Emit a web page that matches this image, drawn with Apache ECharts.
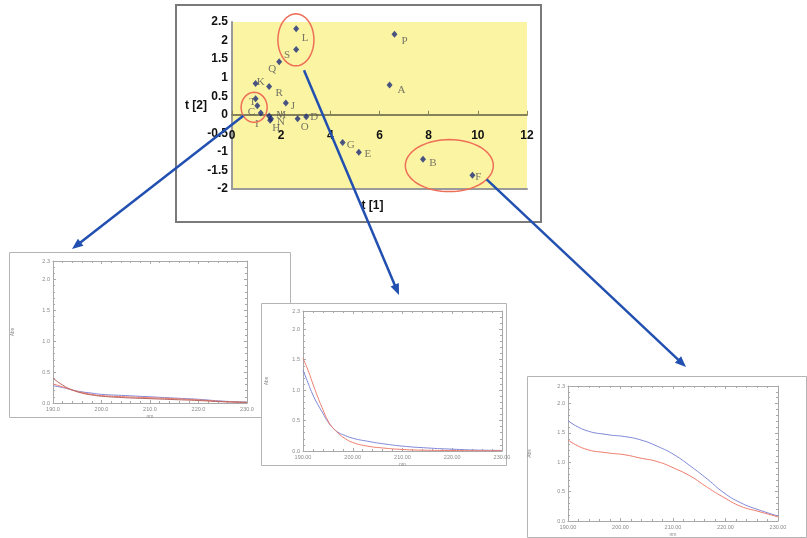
<!DOCTYPE html>
<html>
<head>
<meta charset="utf-8">
<script src="https://cdn.jsdelivr.net/npm/echarts@6/dist/echarts.min.js"></script>
<style>
  html, body { margin: 0; padding: 0; background: #fff; }
  #chart { width: 807px; height: 538px; }
</style>
</head>
<body>
<div id="chart"></div>
<script>
// Score plot: sample names with their t[1] / t[2] scores
const sampleNames = ['L', 'S', 'Q', 'K', 'R', 'J', 'T', 'C', 'I', 'M', 'N', 'H', 'O', 'D', 'G', 'E', 'P', 'A', 'B', 'F'];
const scoreT1 = [2.61, 2.61, 1.92, 0.96, 1.51, 2.19, 0.96, 1.03, 1.17, 1.51, 1.59, 1.55, 2.67, 3.02, 4.50, 5.16, 6.61, 6.41, 7.77, 9.78];
const scoreT2 = [2.32, 1.76, 1.43, 0.84, 0.76, 0.32, 0.43, 0.24, 0.05, -0.03, -0.11, -0.15, -0.11, -0.05, -0.75, -1.01, 2.17, 0.80, -1.20, -1.63];
const t1Ticks = [0, 2, 4, 6, 8, 10, 12];
const t2Ticks = [-2, -1.5, -1, -0.5, 0, 0.5, 1, 1.5, 2, 2.5];

// Absorbance spectra (nm / Abs) for the three highlighted groups
const absTicks = [0, 0.5, 1.0, 1.5, 2.0];
const absMax = 2.3;
const nmTicks = [190, 200, 210, 220, 230];

const nm1 = [190, 192, 194, 196, 198, 200, 205, 210, 215, 220, 225, 230];
const abs1a = [0.40, 0.29, 0.21, 0.16, 0.13, 0.11, 0.085, 0.07, 0.055, 0.04, 0.02, 0.01];
const abs1b = [0.31, 0.26, 0.21, 0.17, 0.14, 0.12, 0.10, 0.085, 0.07, 0.05, 0.025, 0.01];
const abs1c = [0.28, 0.25, 0.21, 0.18, 0.16, 0.14, 0.12, 0.10, 0.08, 0.06, 0.03, 0.015];

const nm2 = [190, 191, 192, 193, 194, 195, 196, 197, 198, 200, 203, 206, 210, 215, 220, 225, 230];
const abs2blue = [1.33, 1.12, 0.92, 0.76, 0.62, 0.48, 0.38, 0.31, 0.27, 0.21, 0.16, 0.12, 0.08, 0.05, 0.03, 0.015, 0.01];
const abs2red = [1.52, 1.33, 1.10, 0.88, 0.68, 0.50, 0.38, 0.30, 0.23, 0.14, 0.08, 0.05, 0.025, 0.012, 0.008, 0.005, 0.005];

const nm3 = [190, 193.2, 197.6, 200.7, 203.9, 207.1, 210.2, 213.4, 216.6, 219.7, 222.9, 226.0, 230];
const abs3blue = [1.71, 1.55, 1.47, 1.44, 1.38, 1.27, 1.13, 0.93, 0.71, 0.48, 0.31, 0.20, 0.085];
const abs3red = [1.38, 1.23, 1.16, 1.13, 1.07, 1.01, 0.90, 0.76, 0.57, 0.40, 0.25, 0.17, 0.07];

// Label placement around each score marker (px, relative to the marker)
const labelOffset = {
  L: [9, 9], S: [-9, 6], Q: [-7, 7], K: [5, -1], R: [10, 7], J: [7, 3],
  T: [-3, 3], C: [-6, 6], I: [-4, 11], M: [12, -1], N: [10, 3], H: [6, 8],
  O: [7, 8], D: [8, 0], G: [8, 2], E: [9, 2], P: [10, 7], A: [12, 5],
  B: [10, 4], F: [6, 2]
};

const SANS = 'Liberation Sans, Arial, sans-serif';
const SERIF = 'Liberation Serif, Times New Roman, serif';
const BLUE = '#7f88d8';
const RED = '#ef7d6c';

// Panel frames (outer white boxes) and their plot areas
const panelBoxes = [
  { x: 9, y: 252, w: 281, h: 165 },
  { x: 261, y: 303, w: 245, h: 162 },
  { x: 527, y: 376, w: 279, h: 161 }
];
const panelGrids = [
  { left: 53, top: 261, width: 194, height: 142, digits: 1, nameGap: 38 },
  { left: 303, top: 311, width: 199, height: 140, digits: 2, nameGap: 34 },
  { left: 568, top: 386, width: 210, height: 136, digits: 2, nameGap: 36 }
];

const chart = echarts.init(document.getElementById('chart'), null, { renderer: 'canvas' });

// Score plot area; the t[1] axis runs along t[2] = 0
const scoreGrid = { left: 232, top: 22, width: 295, height: 167 };
const t2Min = t2Ticks[0], t2Max = t2Ticks[t2Ticks.length - 1];
const zeroLift = -scoreGrid.height * (0 - t2Min) / (t2Max - t2Min);

const grids = [
  Object.assign({ show: true, backgroundColor: '#faf4a3', borderWidth: 0 }, scoreGrid)
];
const xAxes = [
  {
    gridIndex: 0, type: 'value', position: 'bottom', offset: zeroLift,
    min: t1Ticks[0], max: t1Ticks[t1Ticks.length - 1], interval: t1Ticks[1] - t1Ticks[0],
    axisLine: { onZero: false, lineStyle: { color: '#85815a', width: 2 } },
    axisTick: { inside: true, length: 4, lineStyle: { color: '#85815a', width: 1 } },
    axisLabel: { margin: 15, color: '#111', fontFamily: SANS, fontWeight: 'bold', fontSize: 12 },
    splitLine: { show: false }
  },
  {
    gridIndex: 0, type: 'value', position: 'bottom',
    min: t1Ticks[0], max: t1Ticks[t1Ticks.length - 1],
    axisLine: { onZero: false, lineStyle: { color: '#9a9a9a', width: 2 } },
    axisTick: { show: false }, axisLabel: { show: false }, splitLine: { show: false },
    name: 't [1]', nameLocation: 'middle', nameGap: 11, nameMoveOverlap: false,
    nameTextStyle: { color: '#111', fontFamily: SANS, fontWeight: 'bold', fontSize: 12, padding: [0, 14, 0, 0] }
  }
];
const yAxes = [
  {
    gridIndex: 0, type: 'value',
    min: t2Min, max: t2Max, interval: t2Ticks[1] - t2Ticks[0],
    axisLine: { onZero: false, lineStyle: { color: '#9a9a9a', width: 2 } },
    axisTick: { show: false },
    axisLabel: { margin: 4, color: '#111', fontFamily: SANS, fontWeight: 'bold', fontSize: 12 },
    splitLine: { show: false },
    name: 't [2]', nameLocation: 'middle', nameRotate: 0, nameGap: 25, nameMoveOverlap: false,
    nameTextStyle: { color: '#111', fontFamily: SANS, fontWeight: 'bold', fontSize: 12, padding: [4, 0, 0, 0] }
  }
];

const series = [
  {
    type: 'scatter', xAxisIndex: 0, yAxisIndex: 0,
    symbol: 'diamond', symbolSize: [6, 7],
    itemStyle: { color: '#1b2a78' },
    label: {
      show: true, position: 'inside', formatter: p => p.name,
      color: '#555', fontFamily: SERIF, fontSize: 11
    },
    data: sampleNames.map((n, i) => ({
      name: n, value: [scoreT1[i], scoreT2[i]], label: { offset: labelOffset[n] }
    }))
  }
];

// Spectrum panels: bottom/left axes carry labels, top/right mirror the tick frame
const frameLine = { color: '#a8a8a8', width: 1 };
panelGrids.forEach((g) => {
  const gi = grids.length;
  grids.push({ left: g.left, top: g.top, width: g.width, height: g.height, show: false });
  ['bottom', 'top'].forEach(pos => {
    xAxes.push({
      gridIndex: gi, type: 'value', position: pos,
      min: nmTicks[0], max: nmTicks[nmTicks.length - 1], interval: nmTicks[1] - nmTicks[0],
      axisLine: { onZero: false, lineStyle: frameLine },
      axisTick: { inside: true, length: 3, lineStyle: frameLine },
      minorTick: { show: true, splitNumber: 5, length: 2, lineStyle: frameLine },
      axisLabel: {
        show: pos === 'bottom', margin: 3, color: '#8a8a8a', fontFamily: SANS, fontSize: 5.5,
        formatter: v => v.toFixed(g.digits)
      },
      splitLine: { show: false },
      name: pos === 'bottom' ? 'nm' : '', nameLocation: 'middle', nameGap: 11,
      nameTextStyle: { color: '#8a8a8a', fontFamily: SANS, fontSize: 5 }
    });
  });
  ['left', 'right'].forEach(pos => {
    yAxes.push({
      gridIndex: gi, type: 'value', position: pos,
      min: absTicks[0], max: absMax, interval: absTicks[1] - absTicks[0],
      axisLine: { onZero: false, lineStyle: frameLine },
      axisTick: { inside: true, length: 3, lineStyle: frameLine },
      minorTick: { show: true, splitNumber: 5, length: 2, lineStyle: frameLine },
      axisLabel: {
        show: pos === 'left', margin: 3, color: '#8a8a8a', fontFamily: SANS, fontSize: 5.5,
        formatter: v => v.toFixed(1)
      },
      splitLine: { show: false },
      name: pos === 'left' ? 'Abs' : '', nameLocation: 'middle', nameGap: g.nameGap,
      nameTextStyle: { color: '#8a8a8a', fontFamily: SANS, fontSize: 5 }
    });
  });
});

function spectrum(panel, nm, abs, color) {
  return {
    type: 'line', xAxisIndex: 2 + panel * 2, yAxisIndex: 1 + panel * 2,
    smooth: true, showSymbol: false, silent: true,
    lineStyle: { color: color, width: 1 },
    data: nm.map((w, i) => [w, abs[i]])
  };
}
series.push(
  spectrum(0, nm1, abs1c, BLUE),
  spectrum(0, nm1, abs1b, RED),
  spectrum(0, nm1, abs1a, '#b8645e'),
  spectrum(1, nm2, abs2blue, BLUE),
  spectrum(1, nm2, abs2red, RED),
  spectrum(2, nm3, abs3blue, BLUE),
  spectrum(2, nm3, abs3red, RED)
);

chart.setOption({
  animation: false,
  backgroundColor: '#ffffff',
  grid: grids, xAxis: xAxes, yAxis: yAxes, series: series
});

// Annotations: groups circled on the score plot, arrows to their spectra
const groupRings = [
  { center: [2.60, 2.02], rx: 18, ry: 26 },
  { center: [0.90, 0.20], rx: 13, ry: 15 },
  { center: [8.84, -1.37], rx: 44, ry: 26 }
];
const pointers = [
  { ring: 1, angle: 146, reach: 1.0, panel: 0, tip: [63, -3] },
  { ring: 0, angle: 69, reach: 1.25, panel: 1, tip: [138, -8] },
  { ring: 2, angle: 32, reach: 1.0, panel: 2, tip: [159, -9] }
];

const graphics = [];
graphics.push({
  type: 'rect', z: -20, shape: { x: 176, y: 5, width: 365, height: 217 },
  style: { fill: '#fff', stroke: '#7a7a7a', lineWidth: 2 }
});
panelBoxes.forEach((b, i) => {
  graphics.push({
    type: 'rect', z: -15 + i, shape: { x: b.x + 0.5, y: b.y + 0.5, width: b.w, height: b.h },
    style: { fill: '#fff', stroke: '#b4b4b4', lineWidth: 1 }
  });
});

const ringPx = groupRings.map(r => {
  const c = chart.convertToPixel({ xAxisIndex: 0, yAxisIndex: 0 }, r.center);
  return { cx: c[0], cy: c[1], rx: r.rx, ry: r.ry };
});
ringPx.forEach(r => {
  const pts = [];
  for (let a = 0; a < 360; a += 5) {
    const t = a * Math.PI / 180;
    pts.push([r.cx + r.rx * Math.cos(t), r.cy + r.ry * Math.sin(t)]);
  }
  graphics.push({
    type: 'polygon', z: 50, shape: { points: pts },
    style: { fill: 'none', stroke: '#ee6e58', lineWidth: 1.5 }
  });
});

const ARROW = '#2250b0';
pointers.forEach(p => {
  const r = ringPx[p.ring];
  const t = p.angle * Math.PI / 180;
  const sx = r.cx + r.rx * Math.cos(t) * p.reach;
  const sy = r.cy + r.ry * Math.sin(t) * p.reach;
  const box = panelBoxes[p.panel];
  const tx = box.x + p.tip[0];
  const ty = box.y + p.tip[1];
  const dx = tx - sx, dy = ty - sy;
  const len = Math.hypot(dx, dy);
  const ux = dx / len, uy = dy / len;
  const head = 11, half = 4.5;
  const bx = tx - ux * head, by = ty - uy * head;
  graphics.push({
    type: 'line', z: 60, shape: { x1: sx, y1: sy, x2: bx + ux * 2, y2: by + uy * 2 },
    style: { stroke: ARROW, lineWidth: 2.5 }
  });
  graphics.push({
    type: 'polygon', z: 60,
    shape: { points: [[tx, ty], [bx - uy * half, by + ux * half], [bx + uy * half, by - ux * half]] },
    style: { fill: ARROW }
  });
});

chart.setOption({ graphic: graphics });
</script>
</body>
</html>
